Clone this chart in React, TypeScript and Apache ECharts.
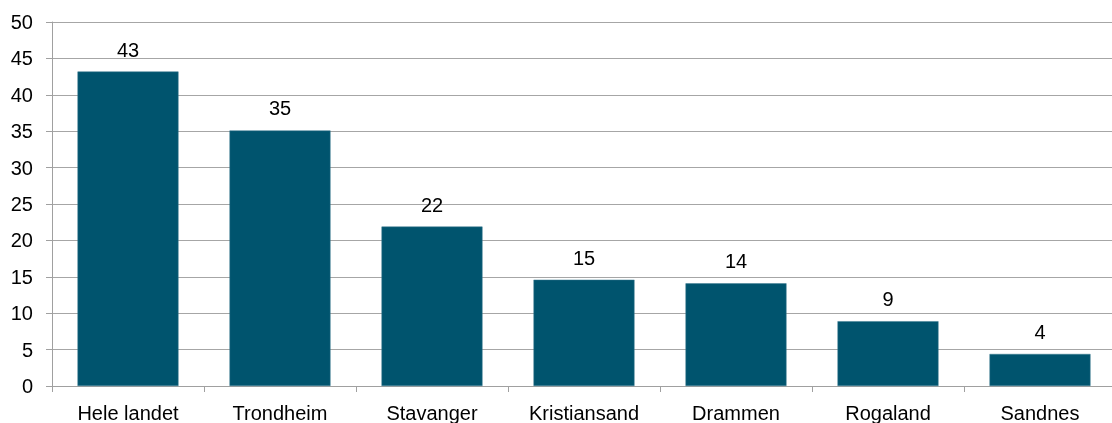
import React, { useEffect, useRef } from "react";
import * as echarts from "echarts";

const categories = ["Hele landet", "Trondheim", "Stavanger", "Kristiansand", "Drammen", "Rogaland", "Sandnes"];
const values = [43.2, 35.1, 21.9, 14.6, 14.1, 8.9, 4.4];
const yTicks = { min: 0, max: 50, interval: 5 };

export default function App() {
  const ref = useRef<HTMLDivElement>(null);
  useEffect(() => {
    document.body.style.margin = "0";
    document.body.style.overflow = "hidden";
    const chart = echarts.init(ref.current!, undefined, { renderer: "svg" });
    const font = "'Liberation Sans', Arial, sans-serif";
    chart.setOption({
      animation: false,
      grid: { left: 52, right: 4, top: 22, bottom: 35 },
      xAxis: {
        type: "category",
        data: categories,
        axisLine: { lineStyle: { color: "#a0a0a0", width: 1 } },
        axisTick: { show: true, length: 6, lineStyle: { color: "#a0a0a0" } },
        axisLabel: { color: "#000", fontSize: 20, fontFamily: font, margin: 17, interval: 0 },
      },
      yAxis: {
        type: "value",
        min: yTicks.min,
        max: yTicks.max,
        interval: yTicks.interval,
        axisLine: { show: true, lineStyle: { color: "#a0a0a0", width: 1 } },
        axisTick: { show: true, length: 6, lineStyle: { color: "#a0a0a0" } },
        axisLabel: { color: "#000", fontSize: 20, fontFamily: font, margin: 19 },
        splitLine: { lineStyle: { color: "#a6a6a6", width: 1 } },
      },
      series: [
        {
          type: "bar",
          data: values,
          barWidth: 101,
          itemStyle: { color: "#00546E", borderColor: "#3a7a90", borderWidth: 0.5 },
          label: {
            show: true,
            position: "top",
            distance: 12,
            color: "#000",
            fontSize: 20,
            fontFamily: font,
            formatter: (p: any) => String(Math.round(p.value)),
          },
        },
      ],
    });
    return () => chart.dispose();
  }, []);
  return <div ref={ref} style={{ position: "fixed", left: 0, top: 0, width: 1120, height: 423 }} />;
}
